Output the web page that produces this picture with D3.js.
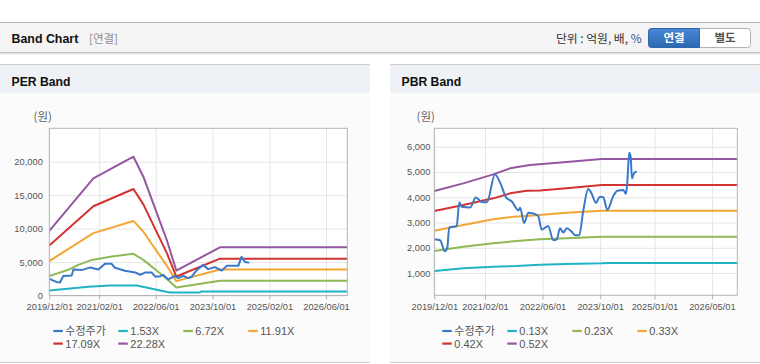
<!DOCTYPE html>
<html><head><meta charset="utf-8">
<script src="https://cdn.jsdelivr.net/npm/d3@7"></script>
<style>
html,body{margin:0;padding:0;background:#fff;}
svg{display:block;font-family:"Liberation Sans","Noto Sans CJK KR",sans-serif;}
</style></head><body>
<svg id="c" width="760" height="364"></svg>
<script>
// ---------------- DATA ----------------
const perLegend = ["수정주가","1.53X","6.72X","11.91X","17.09X","22.28X"];
const pbrLegend = ["수정주가","0.13X","0.23X","0.33X","0.42X","0.52X"];
const perYTicks = [0,5000,10000,15000,20000];
const pbrYTicks = [1000,2000,3000,4000,5000,6000];
const perXTicks = ["2019-12-01","2021-02-01","2022-06-01","2023-10-01","2025-02-01","2026-06-01"];
const pbrXTicks = ["2019-12-01","2021-02-01","2022-06-01","2023-10-01","2025-01-01","2026-05-01"];
const seriesColors = ["#3a78c9","#1fb3c4","#8fb856","#f3a536","#d2332e","#94569f"];

const perPrice = [["2019-12-07",2450],["2020-02-04",2000],["2020-03-01",1940],["2020-03-30",2900],["2020-06-10",2980],["2020-06-25",3900],["2020-09-04",3800],["2020-11-16",4200],["2021-01-25",3900],["2021-03-22",4730],["2021-05-19",4730],["2021-06-16",4150],["2021-09-10",3700],["2021-12-07",3450],["2022-01-19",3100],["2022-03-01",3430],["2022-04-28",3430],["2022-05-25",2850],["2022-07-07",2850],["2022-08-04",3090],["2022-09-16",2400],["2022-11-13",2940],["2022-12-12",2600],["2023-01-24",2940],["2023-03-07",2600],["2023-04-04",2800],["2023-05-16",3730],["2023-07-13",4580],["2023-08-25",3940],["2023-10-22",4240],["2023-12-19",3730],["2024-02-01",4430],["2024-05-10",4430],["2024-06-07",5800],["2024-07-06",5000],["2024-08-04",4930]];
const per153 = [["2019-12-01",740],["2020-11-01",1300],["2021-05-01",1480],["2021-12-20",1490],["2022-10-01",450],["2023-06-15",450],["2023-06-25",600],["2026-12-01",600]];
const per672 = [["2019-12-01",2920],["2020-02-15",3340],["2020-05-12",3840],["2020-08-06",4580],["2020-11-30",5320],["2021-05-19",5820],["2021-11-22",6230],["2022-02-15",5330],["2022-05-10",4140],["2022-09-04",2490],["2022-11-25",1180],["2023-12-04",2200],["2026-12-01",2200]];
const per1191 = [["2019-12-01",5150],["2020-12-13",9330],["2021-11-22",11150],["2022-02-15",9540],["2022-05-10",7410],["2022-09-04",4460],["2022-11-25",2150],["2023-12-04",3880],["2026-12-01",3880]];
const per1709 = [["2019-12-01",7460],["2020-12-13",13350],["2021-11-22",15920],["2022-02-15",13630],["2022-05-10",10590],["2022-09-04",6370],["2022-11-25",2840],["2023-12-04",5510],["2026-12-01",5510]];
const per2228 = [["2019-12-01",9650],["2020-12-13",17520],["2021-11-22",20750],["2022-02-15",17760],["2022-05-10",13800],["2022-09-04",8300],["2022-11-25",3730],["2023-12-04",7200],["2026-12-01",7200]];

const pbrPrice = [["2019-12-01",2340],["2020-01-18",2300],["2020-02-29",1860],["2020-03-19",1980],["2020-04-05",2800],["2020-06-07",2860],["2020-06-29",3800],["2020-07-19",3620],["2020-09-28",3590],["2020-11-15",3990],["2021-01-05",3810],["2021-02-17",3800],["2021-04-26",4900],["2021-06-07",4600],["2021-07-28",4000],["2021-09-15",3830],["2021-11-10",3480],["2021-11-24",3580],["2021-12-28",2980],["2022-02-02",3390],["2022-03-01",3370],["2022-04-26",3260],["2022-05-25",2720],["2022-07-19",2860],["2022-08-31",2300],["2022-09-29",2330],["2022-10-27",2770],["2022-11-24",2600],["2022-12-22",2770],["2023-02-03",2630],["2023-03-01",2500],["2023-04-07",2500],["2023-05-10",3430],["2023-06-22",4330],["2023-07-20",4150],["2023-08-26",3780],["2023-09-29",4020],["2023-10-27",4000],["2023-11-30",3500],["2024-01-20",4050],["2024-02-23",4260],["2024-04-13",4290],["2024-05-05",4130],["2024-05-16",4550],["2024-06-02",5760],["2024-06-14",5600],["2024-06-25",4750],["2024-07-12",4950],["2024-07-29",5010]];
const pbr013 = [["2019-12-01",1079],["2020-08-02",1186],["2021-04-12",1250],["2021-10-25",1277],["2022-05-10",1330],["2022-12-22",1356],["2023-10-13",1384],["2023-12-20",1400],["2026-12-01",1400]];
const pbr023 = [["2019-12-01",1871],["2020-08-02",2041],["2021-04-12",2176],["2021-10-25",2267],["2022-05-10",2334],["2022-12-22",2374],["2023-10-13",2437],["2026-12-01",2437]];
const pbr033 = [["2019-12-01",2670],["2020-08-02",2900],["2021-04-12",3126],["2021-09-28",3229],["2022-02-15",3270],["2022-12-22",3387],["2023-10-13",3466],["2026-12-01",3466]];
const pbr042 = [["2019-12-01",3454],["2020-08-02",3692],["2021-04-12",3957],["2021-08-31",4155],["2022-01-19",4258],["2022-05-10",4265],["2022-12-22",4353],["2023-10-13",4484],["2026-12-01",4484]];
const pbr052 = [["2019-12-01",4250],["2020-08-02",4550],["2021-04-12",4907],["2021-08-31",5145],["2022-02-15",5276],["2022-12-22",5400],["2023-10-13",5513],["2026-12-01",5513]];

// ---------------- DRAW ----------------
const parse = d3.timeParse("%Y-%m-%d");
const svg = d3.select("#c");
const defs = svg.append("defs");
const KR = "'Noto Sans CJK KR','Liberation Sans',sans-serif";
const LAT = "'Liberation Sans','Noto Sans CJK KR',sans-serif";

// top header bar
svg.append("rect").attr("x",0).attr("y",22).attr("width",760).attr("height",31).attr("fill","#f4f4f4");
svg.append("line").attr("x1",0).attr("x2",760).attr("y1",22.5).attr("y2",22.5).attr("stroke","#b9b9b9");
svg.append("line").attr("x1",0).attr("x2",760).attr("y1",52.5).attr("y2",52.5).attr("stroke","#c2c2c2");
svg.append("line").attr("x1",0).attr("x2",760).attr("y1",53.5).attr("y2",53.5).attr("stroke","#e2e2e2");
svg.append("line").attr("x1",0).attr("x2",760).attr("y1",54.5).attr("y2",54.5).attr("stroke","#f1f1f1");

svg.append("text").attr("x",11.5).attr("y",43.2).attr("font-family",LAT).attr("font-weight","bold")
  .attr("font-size",12.4).attr("fill","#111").text("Band Chart");
svg.append("text").attr("x",89).attr("y",42.8).attr("font-family",KR)
  .attr("font-size",11.5).attr("fill","#8f8f8f").text("[연결]");

const unit = svg.append("text").attr("x",641.5).attr("y",42.5).attr("text-anchor","end")
  .attr("font-family",KR).attr("font-size",11.8).attr("fill","#333");
unit.append("tspan").text("단위 : 억원, 배, ");
unit.append("tspan").attr("fill","#3d4f8c").text("%");

const grad = defs.append("linearGradient").attr("id","btn").attr("x1",0).attr("x2",0).attr("y1",0).attr("y2",1);
grad.append("stop").attr("offset","0").attr("stop-color","#4a89d6");
grad.append("stop").attr("offset","1").attr("stop-color","#2c67b2");
svg.append("rect").attr("x",648.5).attr("y",28.5).attr("width",102).attr("height",19).attr("rx",3)
  .attr("fill","#fff").attr("stroke","#b4b4b4");
const bx0=648.5,bx1=699.5,by0=28.5,by1=47.5,r=3;
svg.append("path").attr("d",`M${bx1},${by0}H${bx0+r}Q${bx0},${by0} ${bx0},${by0+r}V${by1-r}Q${bx0},${by1} ${bx0+r},${by1}H${bx1}Z`)
  .attr("fill","url(#btn)").attr("stroke","#2d66ad");
svg.append("text").attr("x",674).attr("y",42.3).attr("text-anchor","middle").attr("font-family",KR)
  .attr("font-weight","bold").attr("font-size",11.5).attr("fill","#fff").text("연결");
svg.append("text").attr("x",725).attr("y",42.3).attr("text-anchor","middle").attr("font-family",KR)
  .attr("font-weight","bold").attr("font-size",11.5).attr("fill","#555").text("별도");

function panel(cfg){
  const g = svg.append("g");
  g.append("rect").attr("x",cfg.px0).attr("y",65).attr("width",cfg.px1-cfg.px0).attr("height",297).attr("fill","#fbfbfb");
  g.append("rect").attr("x",cfg.px0).attr("y",65).attr("width",cfg.px1-cfg.px0).attr("height",27.7).attr("fill","#eef2f7");
  g.append("line").attr("x1",cfg.px0).attr("x2",cfg.px1).attr("y1",64.5).attr("y2",64.5).attr("stroke","#cfcfcf");
  g.append("line").attr("x1",cfg.px0).attr("x2",cfg.px1).attr("y1",362.5).attr("y2",362.5).attr("stroke","#cfcfcf");
  g.append("text").attr("x",cfg.px0+11.5).attr("y",85.5).attr("font-family",LAT).attr("font-weight","bold")
    .attr("font-size",12.2).attr("fill","#111").text(cfg.title);

  const p = cfg.plot;
  const x = d3.scaleTime().domain([parse("2019-12-01"),parse("2026-12-01")]).range([p.l,p.r]);
  const y = d3.scaleLinear().domain(cfg.yDomain).range([p.b,p.t]);
  g.append("rect").attr("x",p.l).attr("y",p.t).attr("width",p.r-p.l).attr("height",p.b-p.t).attr("fill","#fff");

  const xt = cfg.xTicks.map(parse);
  g.append("g").attr("transform",`translate(0,${p.b})`)
    .call(d3.axisBottom(x).tickValues(xt).tickSize(-(p.b-p.t)).tickFormat(""))
    .call(s=>{s.select(".domain").remove(); s.selectAll("line").attr("stroke","#e6e6e6");});
  g.append("g").attr("transform",`translate(${p.l},0)`)
    .call(d3.axisLeft(y).tickValues(cfg.yTicks).tickSize(-(p.r-p.l)).tickFormat(""))
    .call(s=>{s.select(".domain").remove(); s.selectAll("line").attr("stroke","#e6e6e6");});

  const cid = "clip"+cfg.title.replace(/\s/g,"");
  defs.append("clipPath").attr("id",cid).append("rect").attr("x",p.l).attr("y",p.t).attr("width",p.r-p.l).attr("height",p.b-p.t);
  const lg = g.append("g").attr("clip-path",`url(#${cid})`);
  const order = [1,2,3,4,5,0];
  order.forEach(i=>{
    const data = cfg.series[i].map(d=>[parse(d[0]),d[1]]);
    const line = d3.line().x(d=>x(d[0])).y(d=>y(d[1]));
    if(i===0 && cfg.smooth) line.curve(d3.curveMonotoneX);
    lg.append("path").attr("d",line(data)).attr("fill","none").attr("stroke",seriesColors[i])
      .attr("stroke-width",2).attr("stroke-linejoin","round").attr("stroke-linecap","round");
  });

  g.append("rect").attr("x",p.l).attr("y",p.t).attr("width",p.r-p.l).attr("height",p.b-p.t)
    .attr("fill","none").attr("stroke","#b5b5b5");

  const xa = g.append("g").attr("transform",`translate(0,${p.b})`)
    .call(d3.axisBottom(x).tickValues(xt).tickSize(4).tickPadding(4).tickFormat(d3.timeFormat("%Y/%m/%d")));
  xa.select(".domain").remove();
  xa.selectAll("line").attr("stroke","#b5b5b5");
  xa.selectAll("text").attr("font-family","'Liberation Sans',sans-serif").attr("font-size",9.3).attr("fill","#555");

  const ya = g.append("g").attr("transform",`translate(${p.l},0)`)
    .call(d3.axisLeft(y).tickValues(cfg.yTicks).tickSize(0).tickPadding(cfg.yPad).tickFormat(d3.format(",")));
  ya.select(".domain").remove();
  ya.selectAll("text").attr("font-family","'Liberation Sans',sans-serif").attr("font-size",9.3).attr("fill","#555");

  g.append("text").attr("x",cfg.unitX).attr("y",121).attr("font-family",KR).attr("font-size",11.5)
    .attr("fill","#666").text("(원)");

  cfg.legend.forEach((t,i)=>{
    const col = i%4, row = Math.floor(i/4);
    const lx = cfg.legX + col*cfg.legStep, ly = 331 + row*12.6;
    g.append("line").attr("x1",lx).attr("x2",lx+9.5).attr("y1",ly).attr("y2",ly)
      .attr("stroke",seriesColors[i]).attr("stroke-width",2.2);
    g.append("text").attr("x",lx+12).attr("y",ly+4).attr("font-size",11).attr("fill","#555").text(t);
  });
}

panel({px0:0, px1:370, title:"PER Band",
  plot:{l:49.3,r:347.3,t:128.3,b:295.5}, yDomain:[0,25000], yTicks:perYTicks, xTicks:perXTicks, yPad:6.5,
  series:[perPrice,per153,per672,per1191,per1709,per2228], legend:perLegend, legX:53.3, legStep:65, unitX:33.5, smooth:false});
panel({px0:390, px1:760, title:"PBR Band",
  plot:{l:434.3,r:737.3,t:128.3,b:295.3}, yDomain:[118,6730], yTicks:pbrYTicks, xTicks:pbrXTicks, yPad:4,
  series:[pbrPrice,pbr013,pbr023,pbr033,pbr042,pbr052], legend:pbrLegend, legX:442.3, legStep:65, unitX:416.5, smooth:true});
</script>
</body></html>
